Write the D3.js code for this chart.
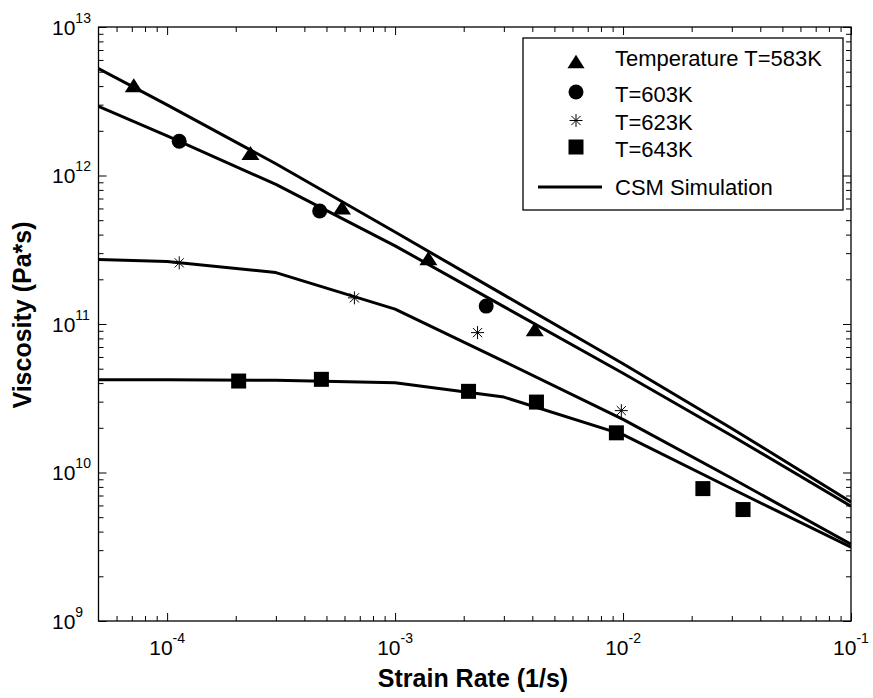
<!DOCTYPE html>
<html>
<head>
<meta charset="utf-8">
<script src="https://cdn.jsdelivr.net/npm/d3@7"></script>
<style>
  html, body { margin: 0; padding: 0; background: #fff; }
  svg { display: block; font-family: "Liberation Sans", Arial, Helvetica, sans-serif; }
</style>
</head>
<body>
<script>
// Measured viscosity at four temperatures (strain rate in 1/s, viscosity in Pa*s)
const rate583 = [7.14e-5, 2.32e-4, 5.85e-4, 1.40e-3, 4.10e-3];
const visc583 = [4.05e12, 1.42e12, 6.08e11, 2.77e11, 9.21e10];

const rate603 = [1.13e-4, 4.67e-4, 2.51e-3];
const visc603 = [1.70e12, 5.77e11, 1.32e11];

const rate623 = [1.13e-4, 6.63e-4, 2.30e-3, 9.83e-3];
const visc623 = [2.58e11, 1.50e11, 8.75e10, 2.61e10];

const rate643 = [2.06e-4, 4.75e-4, 2.10e-3, 4.17e-3, 9.35e-3, 2.24e-2, 3.36e-2];
const visc643 = [4.13e10, 4.24e10, 3.52e10, 2.98e10, 1.85e10, 7.79e9, 5.63e9];

// CSM simulation curves, evaluated at these strain rates
const simRate = [5e-5, 1e-4, 3e-4, 1e-3, 3e-3, 1e-2, 3e-2, 1e-1];
const sim583 = [5.25e12, 2.99e12, 1.20e12, 4.16e11, 1.57e11, 5.40e10, 1.98e10, 6.33e9];
const sim603 = [2.92e12, 1.85e12, 8.71e11, 3.36e11, 1.31e11, 4.66e10, 1.77e10, 5.92e9];
const sim623 = [2.72e11, 2.64e11, 2.22e11, 1.26e11, 5.61e10, 2.28e10, 9.14e9, 3.29e9];
const sim643 = [4.22e10, 4.21e10, 4.18e10, 4.02e10, 3.22e10, 1.80e10, 7.77e9, 3.14e9];

// Axis ticks and labels
const xMajor = [1e-4, 1e-3, 1e-2, 1e-1];
const xMajorExp = ["-4", "-3", "-2", "-1"];
const yMajor = [1e9, 1e10, 1e11, 1e12, 1e13];
const yMajorExp = ["9", "10", "11", "12", "13"];

const legendLabels = ["Temperature T=583K", "T=603K", "T=623K", "T=643K", "CSM Simulation"];
const xTitle = "Strain Rate (1/s)";
const yTitle = "Viscosity (Pa*s)";

const W = 873, H = 698;
const plot = { left: 98.5, right: 851, top: 27, bottom: 621 };

const x = d3.scaleLog().domain([5e-5, 1e-1]).range([plot.left, plot.right]);
const y = d3.scaleLog().domain([1e9, 1e13]).range([plot.bottom, plot.top]);

const svg = d3.select("body").append("svg")
  .attr("width", W).attr("height", H);

svg.append("defs").append("clipPath").attr("id", "plotClip")
  .append("rect")
  .attr("x", plot.left).attr("y", plot.top)
  .attr("width", plot.right - plot.left).attr("height", plot.bottom - plot.top);

// minor tick values: 2..9 within each decade
function minorTicks(lo, hi) {
  const out = [];
  for (let e = Math.floor(Math.log10(lo)); e <= Math.ceil(Math.log10(hi)); e++) {
    for (let k = 2; k <= 9; k++) {
      const v = k * Math.pow(10, e);
      if (v > lo * 1.0001 && v < hi * 0.9999) out.push(v);
    }
  }
  return out;
}
const xMinor = minorTicks(5e-5, 1e-1);
const yMinor = minorTicks(1e9, 1e13);

// inward ticks on all four sides
function tickAxis(axisFn, scale, values, size, transform) {
  const g = svg.append("g")
    .attr("transform", transform)
    .call(axisFn(scale).tickValues(values).tickSize(-size).tickFormat(""));
  g.select(".domain").remove();
  g.selectAll(".tick line").attr("stroke", "#000").attr("stroke-width", 1);
  return g;
}
tickAxis(d3.axisBottom, x, xMajor, 8, `translate(0,${plot.bottom})`);
tickAxis(d3.axisBottom, x, xMinor, 5, `translate(0,${plot.bottom})`);
tickAxis(d3.axisTop, x, xMajor, 8, `translate(0,${plot.top})`);
tickAxis(d3.axisTop, x, xMinor, 5, `translate(0,${plot.top})`);
tickAxis(d3.axisLeft, y, yMajor, 8, `translate(${plot.left},0)`);
tickAxis(d3.axisLeft, y, yMinor, 5, `translate(${plot.left},0)`);
tickAxis(d3.axisRight, y, yMajor, 8, `translate(${plot.right},0)`);
tickAxis(d3.axisRight, y, yMinor, 5, `translate(${plot.right},0)`);

// frame
svg.append("rect")
  .attr("x", plot.left).attr("y", plot.top)
  .attr("width", plot.right - plot.left).attr("height", plot.bottom - plot.top)
  .attr("fill", "none").attr("stroke", "#000").attr("stroke-width", 1.3);

// tick labels as powers of ten
xMajor.forEach((v, i) => {
  const t = svg.append("text")
    .attr("x", x(v)).attr("y", 655)
    .attr("text-anchor", "middle")
    .attr("fill", "#000");
  t.append("tspan").attr("font-size", 21).text("10");
  t.append("tspan").attr("font-size", 14).attr("dy", -12).text(xMajorExp[i]);
});
yMajor.forEach((v, i) => {
  const t = svg.append("text")
    .attr("x", 52).attr("y", y(v) + 7.5)
    .attr("text-anchor", "start")
    .attr("fill", "#000");
  t.append("tspan").attr("font-size", 21).text("10");
  t.append("tspan").attr("font-size", 14).attr("dy", -12).text(yMajorExp[i]);
});

// axis titles
svg.append("text")
  .attr("x", 473).attr("y", 687)
  .attr("text-anchor", "middle")
  .attr("font-size", 25).attr("font-weight", "bold")
  .text(xTitle);
svg.append("text")
  .attr("transform", `translate(31,315) rotate(-90)`)
  .attr("text-anchor", "middle")
  .attr("font-size", 25).attr("font-weight", "bold")
  .text(yTitle);

// simulation curves
const line = d3.line().x(d => x(d[0])).y(d => y(d[1]));
const curves = [sim583, sim603, sim623, sim643];
const gLines = svg.append("g").attr("clip-path", "url(#plotClip)");
curves.forEach(c => {
  gLines.append("path")
    .datum(simRate.map((r, i) => [r, c[i]]))
    .attr("d", line)
    .attr("fill", "none")
    .attr("stroke", "#000")
    .attr("stroke-width", 3)
    .attr("stroke-linejoin", "round");
});

// marker shapes
function drawMarker(g, type, cx, cy, scale = 1) {
  if (type === "triangle") {
    const hw = 9 * scale, hh = 7 * scale;
    g.append("path")
      .attr("d", `M${cx},${cy - hh}L${cx + hw},${cy + hh}L${cx - hw},${cy + hh}Z`)
      .attr("fill", "#000");
  } else if (type === "circle") {
    g.append("circle").attr("cx", cx).attr("cy", cy).attr("r", 7.5 * scale).attr("fill", "#000");
  } else if (type === "square") {
    const s = 15 * scale;
    g.append("rect").attr("x", cx - s / 2).attr("y", cy - s / 2)
      .attr("width", s).attr("height", s).attr("fill", "#000");
  } else if (type === "star") {
    const r = 6.5 * scale;
    const d = [0, 45, 90, 135].map(a => {
      const rad = a * Math.PI / 180;
      const dx = r * Math.cos(rad), dy = r * Math.sin(rad);
      return `M${cx - dx},${cy - dy}L${cx + dx},${cy + dy}`;
    }).join("");
    g.append("path").attr("d", d).attr("stroke", "#000").attr("stroke-width", 1).attr("fill", "none");
  }
}

const series = [
  { type: "triangle", rate: rate583, visc: visc583 },
  { type: "circle", rate: rate603, visc: visc603 },
  { type: "star", rate: rate623, visc: visc623 },
  { type: "square", rate: rate643, visc: visc643 }
];
const gPts = svg.append("g");
series.forEach(s => {
  s.rate.forEach((r, i) => drawMarker(gPts, s.type, x(r), y(s.visc[i])));
});

// legend
const lg = svg.append("g");
lg.append("rect")
  .attr("x", 523).attr("y", 38).attr("width", 320).attr("height", 172)
  .attr("fill", "#fff").attr("stroke", "#000").attr("stroke-width", 1.3);
const rowsY = [61.5, 92, 120.5, 147, 187];
const textY = [66, 101.5, 130, 156.5, 195];
series.forEach((s, i) => drawMarker(lg, s.type, 576, rowsY[i], s.type === "triangle" ? 0.95 : 1));
lg.append("line")
  .attr("x1", 538).attr("x2", 602).attr("y1", rowsY[4]).attr("y2", rowsY[4])
  .attr("stroke", "#000").attr("stroke-width", 3);
legendLabels.forEach((t, i) => {
  lg.append("text").attr("x", 615).attr("y", textY[i])
    .attr("font-size", 22).attr("fill", "#000").text(t);
});
</script>
</body>
</html>
